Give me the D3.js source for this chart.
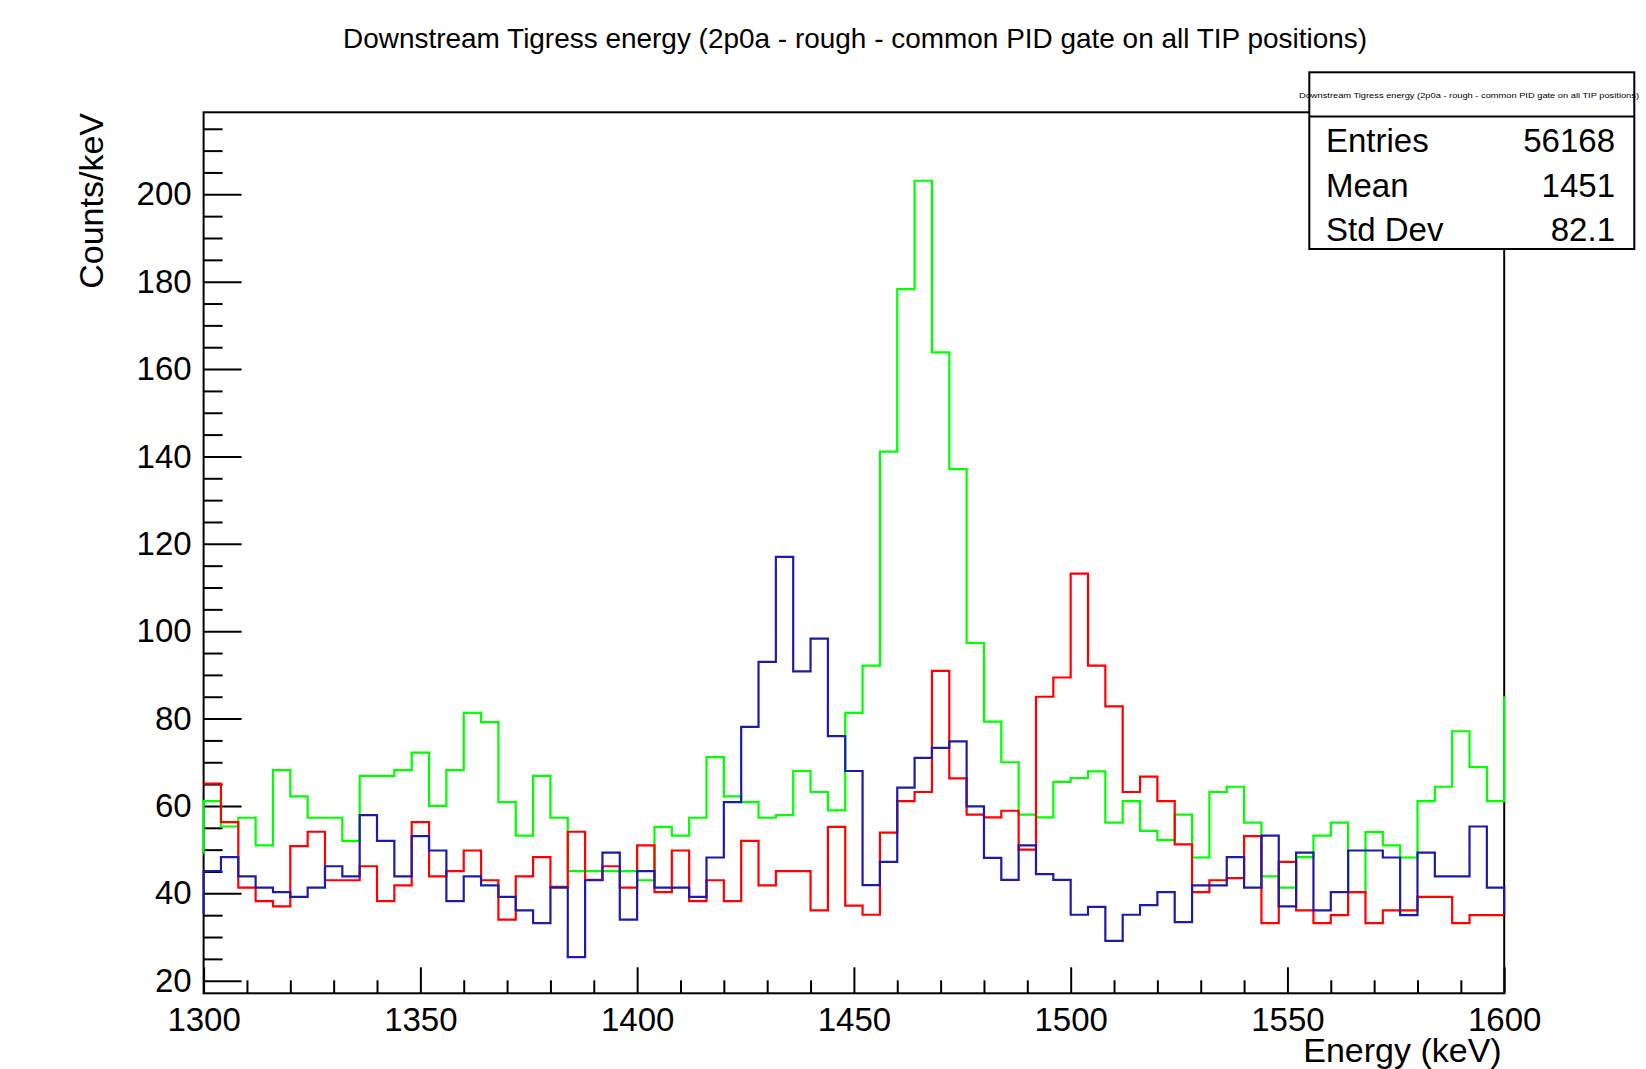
<!DOCTYPE html>
<html><head><meta charset="utf-8">
<script src="https://cdn.jsdelivr.net/npm/d3@7"></script>
<style>
body{margin:0;background:#fff}
svg{display:block}
text{font-family:"Liberation Sans",Arial,Helvetica,sans-serif;fill:#000}
</style>
</head><body><svg id="c" width="1646" height="1069"></svg>
<script>
// ---- data ----
const binLow = [1300,1304,1308,1312,1316,1320,1324,1328,1332,1336,1340,1344,1348,1352,1356,1360,1364,1368,1372,1376,
1380,1384,1388,1392,1396,1400,1404,1408,1412,1416,1420,1424,1428,1432,1436,1440,1444,1448,1452,1456,
1460,1464,1468,1472,1476,1480,1484,1488,1492,1496,1500,1504,1508,1512,1516,1520,1524,1528,1532,1536,
1540,1544,1548,1552,1556,1560,1564,1568,1572,1576,1580,1584,1588,1592,1596];
const binWidth = 4;

const greenCounts = [61.1,55.3,57.3,51.0,68.2,62.2,57.3,57.3,52.0,66.9,66.9,68.2,72.2,60.0,68.2,81.3,79.2,60.9,53.2,66.9,
57.3,45.1,45.1,45.1,45.1,43.0,55.2,53.2,57.3,71.2,62.2,60.9,57.3,57.9,68.0,63.2,59.0,81.3,92.1,141.1,
178.3,203.1,163.8,137.1,97.3,79.3,70.0,58.0,57.4,65.5,66.4,67.9,56.2,61.1,54.3,52.2,58.0,48.2,63.2,64.4,
56.2,43.9,41.3,48.3,53.2,56.2,40.3,54.0,51.0,48.2,61.1,64.4,77.1,68.9,61.1];
const redCounts = [65.1,56.3,41.3,38.2,37.0,50.8,54.1,43.0,43.0,46.2,38.2,41.8,56.3,43.9,45.1,49.8,43.0,34.0,43.9,48.3,
41.5,54.1,43.1,46.2,41.3,51.0,40.3,49.8,38.2,43.0,38.2,52.0,41.8,45.1,45.1,36.1,55.2,37.2,35.1,53.9,
61.1,63.2,90.9,66.3,58.0,57.4,58.9,50.0,85.0,89.4,113.2,92.1,82.8,63.2,66.7,61.1,51.2,40.3,43.0,43.5,
53.1,33.2,47.2,36.1,33.2,35.0,40.3,33.2,36.1,36.1,39.2,39.2,33.2,35.0,35.0];
const blueCounts = [45.1,48.3,43.9,41.3,40.3,39.2,41.3,46.2,43.9,57.9,52.0,43.9,53.1,49.8,38.2,43.9,41.8,39.2,36.1,33.2,
41.3,25.4,43.0,49.3,34.0,45.1,41.3,41.3,39.2,48.2,60.9,78.1,93.0,117.0,90.8,98.3,76.0,68.0,41.9,47.2,
64.2,71.0,73.3,74.8,59.9,48.1,43.1,51.0,44.4,43.1,35.1,36.9,29.1,35.1,37.3,40.3,33.4,41.8,41.8,48.3,
41.3,53.2,37.0,49.3,36.1,40.3,49.8,49.8,48.2,35.0,49.3,43.9,43.9,55.3,41.3];
// values of the bins just outside the displayed range [before, after]
const greenOutside = [49.1, 85.1];
const redOutside = [65.1, 35.0];
const blueOutside = [35.3, 35.3];

const xMajorTicks = [1300,1350,1400,1450,1500,1550,1600];
const xMinorTicks = [1310,1320,1330,1340,1360,1370,1380,1390,1410,1420,1430,1440,1460,1470,1480,1490,1510,1520,1530,1540,1560,1570,1580,1590];
const yMajorTicks = [20,40,60,80,100,120,140,160,180,200];
const yMinorTicks = [25,30,35,45,50,55,65,70,75,85,90,95,105,110,115,125,130,135,145,150,155,165,170,175,185,190,195,205,210,215];

const titleText = "Downstream Tigress energy (2p0a - rough - common PID gate on all TIP positions)";
const xTitle = "Energy (keV)";
const yTitle = "Counts/keV";
const statLabels = ["Entries","Mean","Std Dev"];
const statValues = ["56168","1451","82.1"];

// ---- drawing ----
const svg = d3.select("#c");
svg.append("rect").attr("width",1646).attr("height",1069).attr("fill","#fff");

const L = 203.6, R = 1504.2, T = 112.3, B = 993.3;
const x = d3.scaleLinear().domain([1300,1600]).range([L,R]);
const y = d3.scaleLinear().domain([17.12,218.77]).range([B,T]);

// axes
const gx = svg.append("g").attr("transform",`translate(0,${B})`);
gx.call(d3.axisBottom(x).tickValues(xMinorTicks).tickSize(-13).tickFormat("").tickSizeOuter(0));
gx.call(g=>g.select(".domain").remove());
const gx2 = svg.append("g").attr("transform",`translate(0,${B})`);
gx2.call(d3.axisBottom(x).tickValues(xMajorTicks).tickSize(-26).tickPadding(14).tickFormat(d3.format("d")).tickSizeOuter(0));
gx2.call(g=>g.select(".domain").remove());
gx2.selectAll("text").attr("font-size",33).attr("font-family","Liberation Sans, Arial, sans-serif").attr("fill","#000");

const gy = svg.append("g").attr("transform",`translate(${L},0)`);
gy.call(d3.axisLeft(y).tickValues(yMinorTicks).tickSize(-19).tickFormat("").tickSizeOuter(0));
gy.call(g=>g.select(".domain").remove());
const gy2 = svg.append("g").attr("transform",`translate(${L},0)`);
gy2.call(d3.axisLeft(y).tickValues(yMajorTicks).tickSize(-38).tickPadding(12).tickFormat(d3.format("d")).tickSizeOuter(0));
gy2.call(g=>g.select(".domain").remove());
gy2.selectAll("text").attr("font-size",33).attr("font-family","Liberation Sans, Arial, sans-serif").attr("fill","#000");

svg.selectAll(".tick line").attr("stroke","#000").attr("stroke-width",2);

// frame
svg.append("rect").attr("x",L).attr("y",T).attr("width",R-L).attr("height",B-T)
  .attr("fill","none").attr("stroke","#000").attr("stroke-width",2);

// histograms
function stepPoints(counts, outside){
  const pts = [[binLow[0], outside[0]]];
  counts.forEach((v,i)=>{ pts.push([binLow[i],v]); pts.push([binLow[i]+binWidth,v]); });
  pts.push([binLow[binLow.length-1]+binWidth, outside[1]]);
  return pts;
}
const line = d3.line().x(d=>x(d[0])).y(d=>y(d[1]));
const series = [
  {c:greenCounts,o:greenOutside,col:"#00ff00"},
  {c:redCounts,o:redOutside,col:"#ff0000"},
  {c:blueCounts,o:blueOutside,col:"#1c1ca8"}
];
svg.append("g").selectAll("path").data(series).join("path")
  .attr("d",d=>line(stepPoints(d.c,d.o)))
  .attr("fill","none").attr("stroke",d=>d.col).attr("stroke-width",2.2)
  .attr("stroke-linejoin","miter");

// title
svg.append("text").attr("x",855).attr("y",48).attr("text-anchor","middle")
  .attr("font-size",28).attr("textLength",1024).attr("lengthAdjust","spacingAndGlyphs").text(titleText);

// axis titles
svg.append("text").attr("x",1501.7).attr("y",1061.7).attr("text-anchor","end")
  .attr("font-size",34).text(xTitle);
svg.append("text").attr("transform","translate(103.3,113) rotate(-90)").attr("text-anchor","end")
  .attr("font-size",34).text(yTitle);

// stats box
const sb = svg.append("g");
sb.append("rect").attr("x",1309.3).attr("y",72.3).attr("width",325).attr("height",176.7)
  .attr("fill","#fff").attr("stroke","#000").attr("stroke-width",2);
sb.append("line").attr("x1",1309.3).attr("x2",1634.3).attr("y1",116.5).attr("y2",116.5)
  .attr("stroke","#000").attr("stroke-width",2);
sb.append("text").attr("x",1469).attr("y",98).attr("text-anchor","middle").attr("font-size",8)
  .attr("textLength",340).attr("lengthAdjust","spacingAndGlyphs").text(titleText);
const rowsY = [152.3,196.7,240.7];
sb.selectAll("text.lab").data(statLabels).join("text").attr("class","lab")
  .attr("x",1326).attr("y",(d,i)=>rowsY[i]).attr("font-size",33).text(d=>d);
sb.selectAll("text.val").data(statValues).join("text").attr("class","val")
  .attr("x",1615).attr("y",(d,i)=>rowsY[i]).attr("text-anchor","end").attr("font-size",33).text(d=>d);
</script>
</body></html>
